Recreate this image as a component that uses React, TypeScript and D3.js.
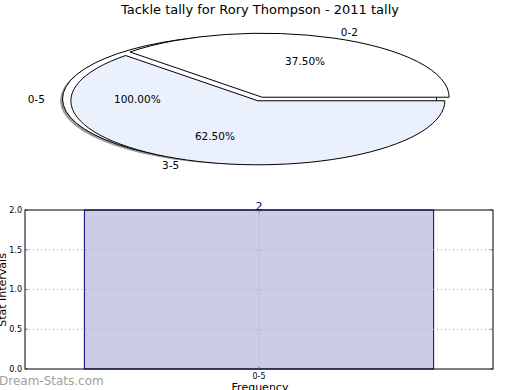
import { useMemo } from "react";
import * as d3 from "d3";

// Datos.
const TITLE = "Tackle tally for Rory Thompson - 2011 tally";
const pieLabels = ["0-2", "3-5"];
const pieValues = [3, 5]; // 37.5% / 62.5%
const pieColors = ["#ffffff", "#eaf0fc"];
const outerLabel = "0-5";
const outerValue = 100;

const barCategories = ["0-5"];
const barValues = [2];
const yTicks = [0, 0.5, 1, 1.5, 2];

const W = 520;
const H = 390;
const FONT = "DejaVu Sans, sans-serif";

// Pie (elipse): centro y radios en px.
const PIE = { cx: 260, cy: 99, rx: 187, ry: 64, explode: 0.03, outerExplode: 0.056 };
// Gráfico de barras.
const BAR = { left: 25, right: 493, top: 210, bottom: 369 };

type Slice = d3.PieArcDatum<number>;

function offsetFor(mid: number, e: number) {
  // mid en grados estilo matplotlib (0 = este, antihorario)
  const r = (mid * Math.PI) / 180;
  return { dx: Math.cos(r) * e * PIE.rx, dy: -Math.sin(r) * e * PIE.ry };
}

export default function App() {
  const slices = useMemo(
    () =>
      d3
        .pie<number>()
        .sort(null)
        .startAngle(Math.PI / 2)
        .endAngle(Math.PI / 2 - 2 * Math.PI)(pieValues),
    [],
  );
  const arc = d3.arc<Slice>().innerRadius(0).outerRadius(1);
  const total = d3.sum(pieValues);

  // ángulo medio (matplotlib) de cada porción
  const midDeg = (s: Slice) => 90 - (((s.startAngle + s.endAngle) / 2) * 180) / Math.PI;

  const outer = offsetFor(180, PIE.outerExplode);

  const x = d3
    .scaleBand<string>()
    .domain(barCategories)
    .range([BAR.left, BAR.right])
    .paddingInner(0)
    .paddingOuter(0.17);
  const y = d3.scaleLinear().domain([0, 2]).range([BAR.bottom, BAR.top]);
  const xc = (x(barCategories[0]) ?? 0) + x.bandwidth() / 2;

  const labelFont = 10.5;

  return (
    <svg width={W} height={H} style={{ position: "absolute", left: 0, top: 0 }} fontFamily={FONT}>
      <rect width={W} height={H} fill="#fff" />
      <text x={260} y={14} textAnchor="middle" fontSize={13}>
        {TITLE}
      </text>

      {/* porción completa 0-5 con sombra */}
      <ellipse
        cx={PIE.cx + outer.dx - 2.5}
        cy={PIE.cy + outer.dy + 1.5}
        rx={PIE.rx}
        ry={PIE.ry}
        fill="#808080"
        opacity={0.8}
      />
      <ellipse
        cx={PIE.cx + outer.dx}
        cy={PIE.cy + outer.dy}
        rx={PIE.rx}
        ry={PIE.ry}
        fill="#fff"
        stroke="#000"
        strokeWidth={1}
      />

      {slices.map((s, i) => {
        const o = offsetFor(midDeg(s), PIE.explode);
        return (
          <g key={i} transform={`translate(${PIE.cx + o.dx},${PIE.cy + o.dy}) scale(${PIE.rx},${PIE.ry})`}>
            <path
              d={arc(s) ?? ""}
              fill={pieColors[i]}
              stroke="#000"
              strokeWidth={1}
              vectorEffect="non-scaling-stroke"
            />
          </g>
        );
      })}

      {/* etiquetas */}
      {(() => {
        const ox = PIE.cx + outer.dx;
        const oy = PIE.cy + outer.dy;
        return (
          <g fontSize={labelFont}>
            <text x={ox - 1.1 * PIE.rx + 1} y={oy} dy="0.35em" textAnchor="end">
              {outerLabel}
            </text>
            <text x={ox - 0.6 * PIE.rx} y={oy} dy="0.35em" textAnchor="middle">
              {outerValue.toFixed(2)}%
            </text>
          </g>
        );
      })()}
      {slices.map((s, i) => {
        const m = midDeg(s);
        const o = offsetFor(m, PIE.explode);
        const r = (m * Math.PI) / 180;
        const cx = PIE.cx + o.dx;
        const cy = PIE.cy + o.dy;
        const lx = cx + Math.cos(r) * 1.1 * PIE.rx;
        const ly = cy - Math.sin(r) * 1.1 * PIE.ry;
        const px = cx + Math.cos(r) * 0.6 * PIE.rx;
        const py = cy - Math.sin(r) * 0.6 * PIE.ry;
        return (
          <g key={`l${i}`} fontSize={labelFont}>
            <text x={lx} y={ly} dy="0.35em" textAnchor={Math.cos(r) > 0 ? "start" : "end"}>
              {pieLabels[i]}
            </text>
            <text x={px} y={py} dy="0.35em" textAnchor="middle">
              {((pieValues[i] / total) * 100).toFixed(2)}%
            </text>
          </g>
        );
      })}

      {/* barras */}
      {barCategories.map((c, i) => (
        <rect
          key={c}
          x={x(c)}
          y={y(barValues[i])}
          width={x.bandwidth()}
          height={y(0) - y(barValues[i])}
          fill="#ccccE4"
          stroke="#00008b"
          strokeWidth={1}
        />
      ))}

      {/* rejilla punteada */}
      <g stroke="#a8a8a8" strokeDasharray="1,3" strokeWidth={1}>
        {yTicks.slice(1, -1).map((t) => (
          <line key={t} x1={BAR.left} x2={BAR.right} y1={y(t)} y2={y(t)} />
        ))}
        <line x1={xc} x2={xc} y1={BAR.top} y2={BAR.bottom} />
      </g>

      {/* marcas de ejes */}
      <g stroke="#888" strokeWidth={1}>
        {yTicks.map((t) => (
          <g key={t}>
            <line x1={BAR.left} x2={BAR.left + 3} y1={y(t)} y2={y(t)} />
            <line x1={BAR.right - 3} x2={BAR.right} y1={y(t)} y2={y(t)} />
          </g>
        ))}
        <line x1={xc} x2={xc} y1={BAR.bottom} y2={BAR.bottom - 3} />
        <line x1={xc} x2={xc} y1={BAR.top} y2={BAR.top + 3} />
      </g>

      <rect
        x={BAR.left}
        y={BAR.top}
        width={BAR.right - BAR.left}
        height={BAR.bottom - BAR.top}
        fill="none"
        stroke="#000"
        strokeWidth={1}
      />

      {yTicks.map((t) => (
        <text key={t} x={BAR.left - 3} y={y(t)} dy="0.35em" textAnchor="end" fontSize={8}>
          {t.toFixed(1)}
        </text>
      ))}
      {barCategories.map((c) => (
        <text key={c} x={(x(c) ?? 0) + x.bandwidth() / 2} y={379} textAnchor="middle" fontSize={8}>
          {c}
        </text>
      ))}
      {barCategories.map((c, i) => (
        <text
          key={`v${c}`}
          x={(x(c) ?? 0) + x.bandwidth() / 2}
          y={y(barValues[i])}
          textAnchor="middle"
          fontSize={11}
          fill="#00008b"
        >
          {barValues[i]}
        </text>
      ))}

      <text x={260} y={391} textAnchor="middle" fontSize={11}>
        Frequency
      </text>
      <text transform="translate(6,290) rotate(-90)" textAnchor="middle" fontSize={11}>
        Stat Intervals
      </text>
      <text x={-1} y={385} fontSize={12} fill="#a0a0a0">
        Dream-Stats.com
      </text>
    </svg>
  );
}
